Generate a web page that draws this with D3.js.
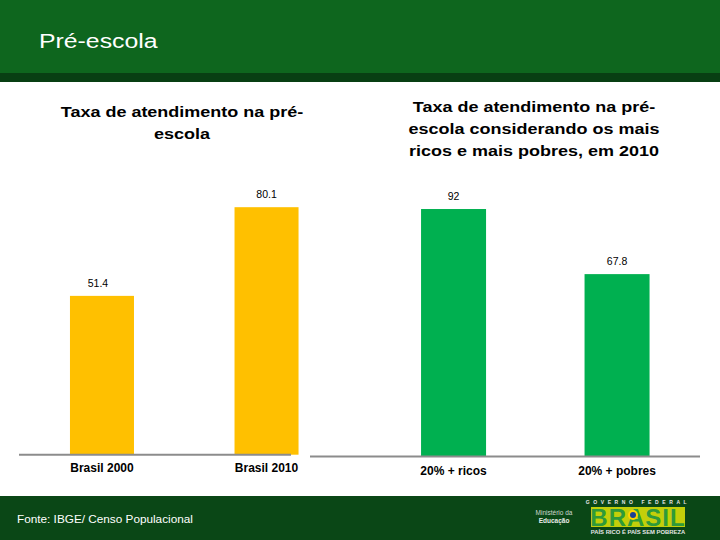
<!DOCTYPE html>
<html>
<head>
<meta charset="utf-8">
<script src="https://cdn.jsdelivr.net/npm/d3@7"></script>
<style>
  html, body { margin: 0; padding: 0; background: #fff; }
  svg { display: block; font-family: Arial, "Liberation Sans", sans-serif; }
</style>
</head>
<body>
<svg id="chart" width="720" height="540"></svg>
<script>
// ---- data ----
const pageTitle = "Pré-escola";
const leftTitle = ["Taxa de atendimento na pré-", "escola"];
const rightTitle = ["Taxa de atendimento na pré-", "escola considerando os mais", "ricos e mais pobres, em 2010"];
const leftCategories = ["Brasil 2000", "Brasil 2010"];
const leftValues = [51.4, 80.1];
const rightCategories = ["20% + ricos", "20% + pobres"];
const rightValues = [92, 67.8];
const sourceText = "Fonte: IBGE/ Censo Populacional";

const svg = d3.select("#chart");

function stretch(sel, k) {
  sel.each(function () {
    const w = this.getComputedTextLength();
    this.setAttribute("textLength", (w * k).toFixed(1));
    this.setAttribute("lengthAdjust", "spacingAndGlyphs");
  });
}

// ---- header ----
svg.append("rect").attr("x", 0).attr("y", 0).attr("width", 720).attr("height", 73).attr("fill", "#0e661e");
svg.append("rect").attr("x", 0).attr("y", 73).attr("width", 720).attr("height", 9).attr("fill", "#083f13");
svg.append("text").attr("x", 39).attr("y", 48).attr("fill", "#fff")
  .attr("font-size", 20).text(pageTitle).call(stretch, 1.24);

// ---- footer ----
svg.append("rect").attr("x", 0).attr("y", 496).attr("width", 720).attr("height", 44).attr("fill", "#0a4716");
svg.append("text").attr("x", 17).attr("y", 523).attr("fill", "#fff")
  .attr("font-size", 10.5).text(sourceText).call(stretch, 1.12);

// logos (approximation)
svg.append("text").attr("x", 554).attr("y", 515).attr("fill", "#cfd8cf").attr("text-anchor", "middle")
  .attr("font-size", 6.5).text("Ministério da");
svg.append("text").attr("x", 554).attr("y", 523).attr("fill", "#e8ece8").attr("text-anchor", "middle")
  .attr("font-size", 6.5).attr("font-weight", "bold").text("Educação");
svg.append("text").attr("x", 638).attr("y", 504).attr("fill", "#e6e6e6").attr("text-anchor", "middle")
  .attr("font-size", 5).attr("font-weight", "bold").attr("letter-spacing", 3.6).text("GOVERNO FEDERAL");
svg.append("rect").attr("x", 591).attr("y", 507).attr("width", 94).attr("height", 20).attr("fill", "#c3cf0a");
svg.append("text").attr("x", 638).attr("y", 526).attr("fill", "#2f9a3a").attr("text-anchor", "middle")
  .attr("font-size", 24).attr("font-weight", "bold").attr("letter-spacing", 1).text("BRASIL");
svg.append("circle").attr("cx", 633).attr("cy", 515).attr("r", 5).attr("fill", "#ffd500");
svg.append("circle").attr("cx", 633).attr("cy", 515).attr("r", 3).attr("fill", "#1c3f94");
svg.append("text").attr("x", 638).attr("y", 534).attr("fill", "#e6e6e6").attr("text-anchor", "middle")
  .attr("font-size", 4.5).attr("font-weight", "bold").text("PAÍS RICO É PAÍS SEM POBREZA").call(stretch, 1.3);

// ---- chart builder ----
function drawChart(cfg) {
  const x = d3.scaleBand().domain(cfg.categories).range(cfg.xRange)
    .paddingInner(cfg.paddingInner).paddingOuter(0.3);
  const y = d3.scaleLinear().domain([0, 100]).range([cfg.baseY, cfg.baseY - cfg.pxPerUnit * 100]);
  const g = svg.append("g");

  // title
  g.selectAll("text.title").data(cfg.title).join("text")
    .attr("class", "title")
    .attr("x", cfg.titleX).attr("y", (d, i) => cfg.titleY + i * 22)
    .attr("text-anchor", "middle").attr("font-size", 15.5).attr("font-weight", "bold").attr("fill", "#000")
    .text(d => d).call(stretch, 1.16);

  // bars
  g.selectAll("rect.bar").data(cfg.values).join("rect")
    .attr("class", "bar")
    .attr("x", (d, i) => x(cfg.categories[i]))
    .attr("width", x.bandwidth())
    .attr("y", d => y(d))
    .attr("height", d => y(0) - y(d))
    .attr("fill", cfg.color);

  // baseline axis
  const axis = g.append("g").attr("transform", `translate(0,${cfg.baseY})`)
    .call(d3.axisBottom(x).tickSize(0).tickPadding(cfg.tickPad));
  axis.select(".domain").remove();
  g.append("line").attr("x1", cfg.lineX[0]).attr("x2", cfg.lineX[1])
    .attr("y1", cfg.baseY).attr("y2", cfg.baseY)
    .attr("stroke", "#8c8c8c").attr("stroke-width", 2);
  axis.selectAll("text").attr("font-size", 12).attr("font-weight", "bold")
    .attr("font-family", "Arial, 'Liberation Sans', sans-serif").attr("fill", "#000");

  // value labels
  g.selectAll("text.val").data(cfg.values).join("text")
    .attr("class", "val")
    .attr("x", (d, i) => x(cfg.categories[i]) + x.bandwidth() / 2 + cfg.valShift[i])
    .attr("y", d => y(d) - 9)
    .attr("text-anchor", "middle").attr("font-size", 10.5).attr("fill", "#000")
    .text(d => d);
}

drawChart({
  categories: leftCategories, values: leftValues, color: "#ffc000",
  xRange: [20.6, 347.9], paddingInner: 0.611, baseY: 454.7, pxPerUnit: 3.09,
  lineX: [19, 291], tickPad: 9, title: leftTitle, titleX: 182, titleY: 117, valShift: [-4, 0]
});
drawChart({
  categories: rightCategories, values: rightValues, color: "#00b050",
  xRange: [372, 698.6], paddingInner: 0.6024, baseY: 456.5, pxPerUnit: 2.69,
  lineX: [310, 700], tickPad: 10, title: rightTitle, titleX: 534, titleY: 112, valShift: [0, 0]
});
</script>
</body>
</html>
